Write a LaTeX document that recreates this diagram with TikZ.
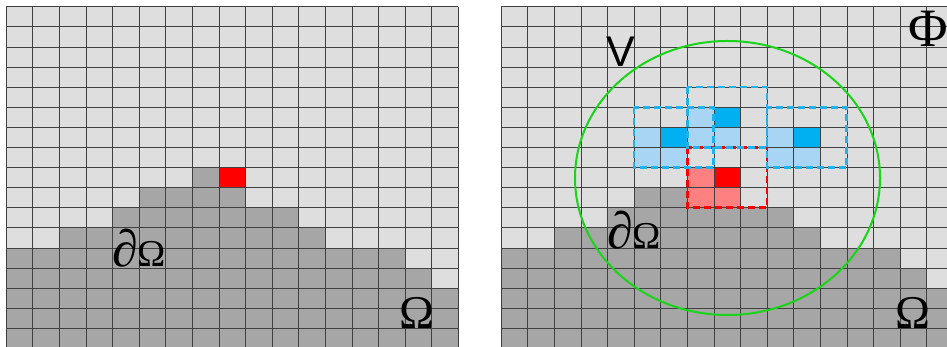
\documentclass[tikz,border=0pt]{standalone}
\usepackage{fontspec}
\newfontfamily\sansV{Liberation Sans}
\newfontfamily\greek{Liberation Serif}
\definecolor{gridsky}{HTML}{DEDEDE}
\definecolor{gridground}{HTML}{A6A6A6}
\definecolor{skylight}{HTML}{A9D5F5}
\definecolor{skydark}{HTML}{00B0F0}
\definecolor{boxblue}{HTML}{1FB2EE}
\definecolor{pinkcell}{HTML}{FF8080}
\definecolor{vgreen}{HTML}{19D419}

\begin{document}
\begin{tikzpicture}[x=1pt, y=1pt,
  gridline/.style={draw=black!75, line width=0.6pt},
  ground/.style={fill=gridground},
  nbhd/.style={dash pattern=on 7pt off 4pt, line width=2.8pt},
  lab/.style={inner sep=0pt, anchor=base west}]
\useasboundingbox (0,0) rectangle (947,347);
\fill[white] (0,0) rectangle (947,347);
% both panels: sky, ground, red cell
\foreach \px in {6,501} {
  \begin{scope}[shift={(\px,340.3)}, x=26.6pt, y=-20.1pt]
    \fill[gridsky] (0,0) rectangle (17,17);
    \foreach \r/\a/\b in {8/7/7, 9/5/8, 10/4/10, 11/2/11, 12/0/14, 13/0/15, 14/0/16, 15/0/16, 16/0/16}
      \fill[ground] (\a,\r) rectangle (\b+1,\r+1);
    \fill[red] (8,8) rectangle (9,9);
  \end{scope}
}
% right panel: neighbour cells
\begin{scope}[shift={(501,340.3)}, x=26.6pt, y=-20.1pt]
  \foreach \c/\r in {5/6, 5/7, 6/7, 7/5, 7/6, 8/6, 10/6, 10/7, 11/7}
    \fill[skylight] (\c,\r) rectangle (\c+1,\r+1);
  \foreach \c/\r in {6/6, 8/5, 11/6}
    \fill[skydark] (\c,\r) rectangle (\c+1,\r+1);
  \foreach \c/\r in {7/8, 7/9, 8/9}
    \fill[pinkcell] (\c,\r) rectangle (\c+1,\r+1);
\end{scope}
% grid lines
\foreach \px in {6,501} {
  \begin{scope}[shift={(\px,340.3)}, x=26.6pt, y=-20.1pt]
    \foreach \c in {0,...,17} \draw[gridline] (\c,0) -- (\c,17);
    \foreach \r in {0,...,17} \draw[gridline] (0,\r) -- (17,\r);
  \end{scope}
}
% patches
\begin{scope}[shift={(501,340.3)}, x=26.6pt, y=-20.1pt]
  \draw[nbhd, draw=red] (7,7) rectangle (10,10);
  \draw[nbhd, draw=boxblue] (5,5) rectangle (8,8);
  \draw[nbhd, draw=boxblue] (7,4) rectangle (10,7);
  \draw[nbhd, draw=boxblue] (10,5) rectangle (13,8);
\end{scope}
\draw[vgreen, line width=2pt] (727.5,169) ellipse [x radius=152.5, y radius=137];
% labels
\node[lab, font=\greek\fontsize{52}{52}\selectfont] (dOmegaL) at (112,80.3) {\itshape ∂\upshape\fontsize{38}{38}\selectfont Ω};
\node[lab, font=\greek\fontsize{52}{52}\selectfont] (dOmegaR) at (607,98) {\itshape ∂\upshape\fontsize{38}{38}\selectfont Ω};
\node[lab, font=\greek\fontsize{47}{47}\selectfont] (OmegaL) at (399,18.7) {Ω};
\node[lab, font=\greek\fontsize{47}{47}\selectfont] (OmegaR) at (895,18.7) {Ω};
\node[lab, font=\sansV\fontsize{43}{43}\selectfont] (Vlab) at (606,280.3) {V};
\node[inner sep=0pt, font=\greek\fontsize{54}{54}\selectfont] (Philab) at (928,318) {Φ};
\end{tikzpicture}
\end{document}
